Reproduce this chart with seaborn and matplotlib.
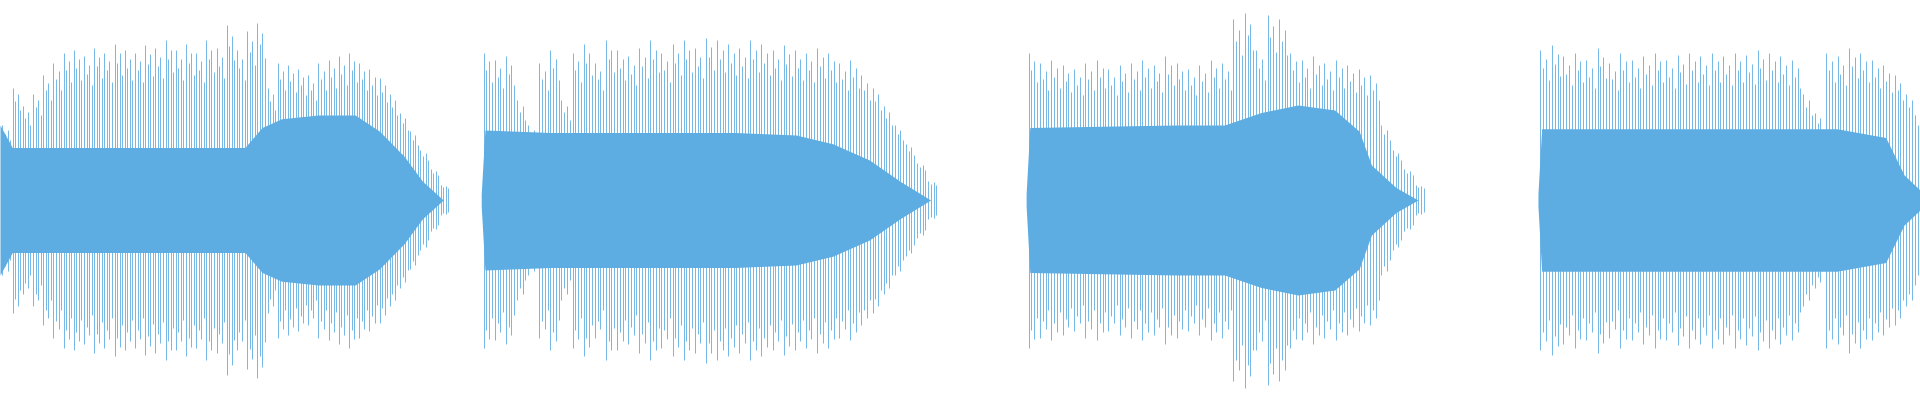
import matplotlib
matplotlib.use("Agg")
import matplotlib.pyplot as plt
import numpy as np
import seaborn as sb

sb.set_style("white")
wave_color = "#5dace2"

# four audio clips: start/end position, core envelope, spike peaks (pixel-ish units)
clip_starts = [0, 393, 838, 1256]
clip_ends = [362, 760, 1158, 1568]

core_x1 = [0, 10, 50, 100, 150, 200, 214, 230, 260, 290, 310, 330, 345, 362]
core_a1 = [60, 42, 42, 42, 42, 42, 58, 65, 68, 68, 55, 35, 15, 0]
core_x2 = [393, 396, 450, 500, 550, 600, 650, 680, 710, 735, 760]
core_a2 = [5, 56, 54, 54, 54, 54, 52, 45, 32, 15, 0]
core_x3 = [838, 841, 900, 960, 1000, 1030, 1060, 1090, 1110, 1120, 1140, 1158]
core_a3 = [5, 58, 59, 60, 60, 70, 76, 72, 55, 28, 10, 0]
core_x4 = [1256, 1259, 1300, 1350, 1400, 1450, 1500, 1540, 1555, 1568]
core_a4 = [5, 57, 57, 57, 57, 57, 57, 50, 20, 8]

spikes1 = [60, 90, 75, 85, 100, 110, 118, 120, 115, 122, 118, 125, 120, 118, 124,
           122, 128, 120, 125, 118, 128, 122, 140, 120, 135, 142, 90, 110, 108, 105,
           100, 110, 112, 115, 118, 110, 105, 98, 85, 70, 55, 40, 25, 12]
spikes2 = [118, 112, 115, 80, 60, 110, 120, 80, 118, 125, 110, 128, 120, 115, 122,
           128, 118, 125, 128, 122, 130, 128, 125, 122, 128, 125, 120, 124, 120, 118,
           122, 118, 110, 112, 100, 90, 75, 60, 45, 30, 15]
spikes3 = [118, 110, 112, 108, 105, 110, 112, 105, 108, 110, 112, 108, 115, 110, 105,
           108, 112, 110, 145, 150, 120, 148, 145, 118, 112, 115, 110, 112, 108, 105,
           100, 60, 40, 25, 12]
spikes4 = [120, 124, 115, 118, 112, 122, 110, 118, 112, 115, 118, 112, 116, 118, 115,
           118, 115, 118, 116, 120, 118, 115, 112, 85, 70, 118, 115, 122, 118, 112,
           108, 100, 85, 60]

core_x = [core_x1, core_x2, core_x3, core_x4]
core_a = [core_a1, core_a2, core_a3, core_a4]
spikes = [spikes1, spikes2, spikes3, spikes4]

# relative heights of the strokes drawn between two listed peaks
stroke_shape = [1.0, 0.88, 0.94, 0.8]

fig, ax = plt.subplots(figsize=(19.2, 4.0), dpi=100)
fig.subplots_adjust(left=0, right=1, top=1, bottom=0)

for start, end, cx, ca, sp in zip(clip_starts, clip_ends, core_x, core_a, spikes):
    cx = np.array(cx)
    ca = np.array(ca)
    ax.fill_between(cx, -ca, ca, color=wave_color, linewidth=0)
    sp = np.array(sp)
    sx = np.linspace(start + 2, end - 2, len(sp))
    step = sx[1] - sx[0]
    for k, f in enumerate(stroke_shape):
        ax.vlines(sx + k * step / len(stroke_shape), -sp * f, sp * f,
                  color=wave_color, linewidth=0.6)

ax.set_xlim(0, 1568)
ax.set_ylim(-160, 160)
ax.axis("off")
fig.savefig("out.png", dpi=100)
